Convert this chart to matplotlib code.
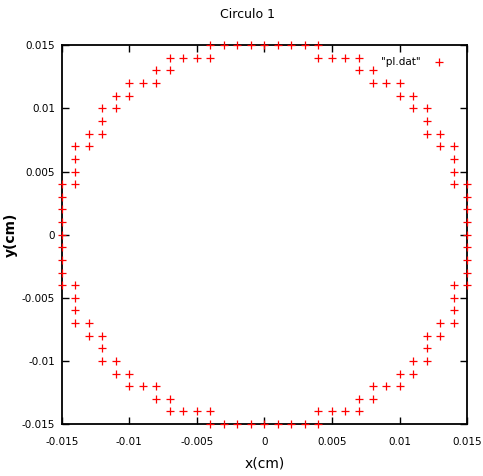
import numpy as np
from matplotlib import pyplot as plt

# points, in units of 0.001 cm
x_pts = [0, 1, 2, 3, 4, 4, 5, 6, 7, 7, 8, 8, 9, 10, 10, 11, 11, 12, 12, 12, 13, 13, 14, 14, 14, 14, 15, 15, 15, 15, 15,
         15, 15, 15, 15, 14, 14, 14, 14, 13, 13, 12, 12, 12, 11, 11, 10, 10, 9, 8, 8, 7, 7, 6, 5, 4, 4, 3, 2, 1, 0,
         -1, -2, -3, -4, -4, -5, -6, -7, -7, -8, -8, -9, -10, -10, -11, -11, -12, -12, -12, -13, -13, -14, -14, -14, -14, -15, -15, -15, -15, -15,
         -15, -15, -15, -15, -14, -14, -14, -14, -13, -13, -12, -12, -12, -11, -11, -10, -10, -9, -8, -8, -7, -7, -6, -5, -4, -4, -3, -2, -1]
y_pts = [15, 15, 15, 15, 15, 14, 14, 14, 14, 13, 13, 12, 12, 12, 11, 11, 10, 10, 9, 8, 8, 7, 7, 6, 5, 4, 4, 3, 2, 1, 0,
         -1, -2, -3, -4, -4, -5, -6, -7, -7, -8, -8, -9, -10, -10, -11, -11, -12, -12, -12, -13, -13, -14, -14, -14, -14, -15, -15, -15, -15, -15,
         -15, -15, -15, -15, -14, -14, -14, -14, -13, -13, -12, -12, -12, -11, -11, -10, -10, -9, -8, -8, -7, -7, -6, -5, -4, -4, -3, -2, -1, 0,
         1, 2, 3, 4, 4, 5, 6, 7, 7, 8, 8, 9, 10, 10, 11, 11, 12, 12, 12, 13, 13, 14, 14, 14, 14, 15, 15, 15, 15]
ticks = [-0.015, -0.01, -0.005, 0, 0.005, 0.01, 0.015]
tick_labels = ["-0.015", "-0.01", "-0.005", "0", "0.005", "0.01", "0.015"]

x = np.array(x_pts) * 0.001
y = np.array(y_pts) * 0.001

fig = plt.figure(figsize=(4.83, 4.76), dpi=100)
ax = fig.add_axes([0.128, 0.109, 0.839, 0.796])

ax.plot(x, y, "+", color="red", markersize=6, markeredgewidth=0.9,
        label='"pl.dat"', clip_on=False, zorder=3)

ax.set_xlim(-0.015, 0.015)
ax.set_ylim(-0.015, 0.015)
ax.set_xticks(ticks)
ax.set_xticklabels(tick_labels)
ax.set_yticks(ticks)
ax.set_yticklabels(tick_labels)
ax.tick_params(direction="in", top=True, right=True, length=5, width=1,
               labelsize=7.5)
ax.tick_params(axis="x", pad=9)
ax.tick_params(axis="y", pad=5)
for s in ax.spines.values():
    s.set_linewidth(1.3)

# gnuplot centres the title on the canvas, not the axes
fig.text(0.512, 1 - 15 / 476, "Circulo 1", fontsize=9, ha="center", va="center")
ax.set_xlabel("x(cm)", fontsize=10, labelpad=7)
ax.set_ylabel("y(cm)", fontsize=10, fontweight="bold")
ax.yaxis.set_label_coords(-0.108, 0.5)

ax.legend(loc="upper right", frameon=False, markerfirst=False, fontsize=7.5,
          handlelength=3.0, handletextpad=0.3, borderaxespad=0.75)

fig.savefig("out.png", dpi=100)
